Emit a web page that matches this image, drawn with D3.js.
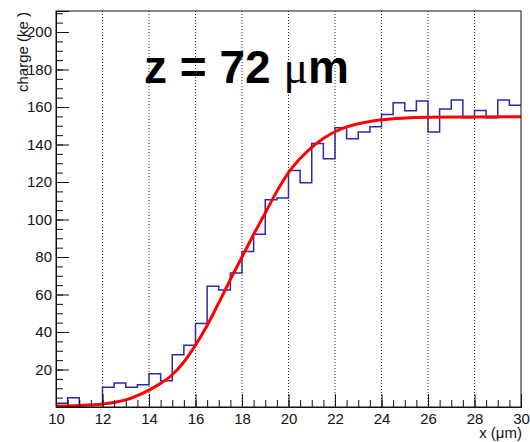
<!DOCTYPE html>
<html><head><meta charset="utf-8">
<script src="https://cdn.jsdelivr.net/npm/d3@7"></script>
<style>body{margin:0;background:#fff;} text{font-family:"Liberation Sans",Arial,sans-serif;}</style>
</head><body><svg id="c" width="530" height="442"></svg>
<script>
// ---- data ----
const binLow = [10,10.5,11,11.5,12,12.5,13,13.5,14,14.5,15,15.5,16,16.5,17,17.5,18,18.5,19,19.5,
                20,20.5,21,21.5,22,22.5,23,23.5,24,24.5,25,25.5,26,26.5,27,27.5,28,28.5,29,29.5];
const binWidth = 0.5;
const charge = [2.0,5.0,1.0,1.2,10.5,12.8,10.5,11.9,17.8,14.0,27.9,32.9,44.6,64.4,62.4,71.5,83.0,92.1,110.6,111.5,
                126.2,119.6,140.6,132.4,149.0,143.1,146.7,149.5,156.0,162.3,158.0,163.2,146.7,158.9,163.7,154.3,158.2,154.3,163.7,160.9];
const fitX = [10,11,12,13,14,14.5,15,15.5,16,16.5,17,17.5,18,18.5,19,19.5,20,20.5,21,21.5,22,22.5,23,23.5,24,25,26,28,30];
const fitY = [0.5,0.8,1.6,3.8,9.0,12.6,17.2,24,33,43.5,55.5,68,80,92,103.5,115,125,132.5,138.5,143.2,146.8,149.4,151.1,152.3,153.2,154.1,154.5,154.7,154.8];
const xTicks = [10,12,14,16,18,20,22,24,26,28,30];
const yTicks = [20,40,60,80,100,120,140,160,180,200];
const gridX = [12,14,16,18,20,22,24,26,28];
const titleText = "z = 72 ";
const titleUnit = "\u03bc";
const titleUnit2 = "m";
const xLabel = "x (\u03bcm)";
const yLabel = "charge (ke )";

// ---- layout ----
const L = 56, R = 521, T = 11, B = 407;
const svg = d3.select("#c");
const x = d3.scaleLinear().domain([10, 30]).range([L, R]);
const y = d3.scaleLinear().domain([0, 211.2]).range([B, T]);

// grid
svg.append("g").selectAll("line").data(gridX).join("line")
  .attr("x1", d => x(d)).attr("x2", d => x(d)).attr("y1", T).attr("y2", B)
  .attr("stroke", "#222").attr("stroke-width", 1).attr("stroke-dasharray", "1,2");

// histogram step
const pts = [];
binLow.forEach((b, i) => { pts.push([b, charge[i]]); pts.push([b + binWidth, charge[i]]); });
svg.append("path").datum(pts)
  .attr("d", d3.line().x(d => x(d[0])).y(d => y(d[1])))
  .attr("fill", "none").attr("stroke", "#2a2aa8").attr("stroke-width", 1.5);

// fit
svg.append("path").datum(fitX.map((v, i) => [v, fitY[i]]))
  .attr("d", d3.line().x(d => x(d[0])).y(d => y(d[1])).curve(d3.curveMonotoneX))
  .attr("fill", "none").attr("stroke", "#ff0000").attr("stroke-width", 3);

// frame
svg.append("rect").attr("x", L).attr("y", T).attr("width", R - L).attr("height", B - T)
  .attr("fill", "none").attr("stroke", "#111").attr("stroke-width", 1);

// axes
const minorX = d3.range(10, 30.001, 0.5);
const minorY = d3.range(5, 211, 5);
const gx = svg.append("g").attr("transform", `translate(0,${B})`);
gx.call(d3.axisBottom(x).tickValues(minorX).tickSize(-7).tickFormat(""));
gx.append("g").call(d3.axisBottom(x).tickValues(xTicks).tickSize(-13).tickPadding(6).tickFormat(d3.format("d")));
const gy = svg.append("g").attr("transform", `translate(${L},0)`);
gy.call(d3.axisLeft(y).tickValues(minorY).tickSize(-7).tickFormat(""));
gy.append("g").call(d3.axisLeft(y).tickValues(yTicks).tickSize(-13).tickPadding(4).tickFormat(d3.format("d")));
svg.selectAll(".domain").attr("stroke", "#111");
svg.selectAll(".tick line").attr("stroke", "#111");
svg.selectAll(".tick text").attr("font-size", 15).attr("fill", "#111")
  .attr("font-family", "'Liberation Sans', Arial, sans-serif");

// labels
svg.append("text").attr("x", 522).attr("y", 438).attr("text-anchor", "end")
  .attr("font-size", 15).attr("fill", "#111").text(xLabel);
svg.append("text").attr("transform", "translate(27.5,12) rotate(-90)").attr("text-anchor", "end")
  .attr("font-size", 15).attr("fill", "#111").text(yLabel);

// title
const t = svg.append("text").attr("x", 144).attr("y", 83).attr("font-size", 46)
  .attr("font-weight", "bold").attr("fill", "#000");
t.append("tspan").text(titleText);
t.append("tspan").attr("font-weight", "normal").attr("font-family", "'Liberation Serif', serif").text(titleUnit);
t.append("tspan").text(titleUnit2);
</script></body></html>
